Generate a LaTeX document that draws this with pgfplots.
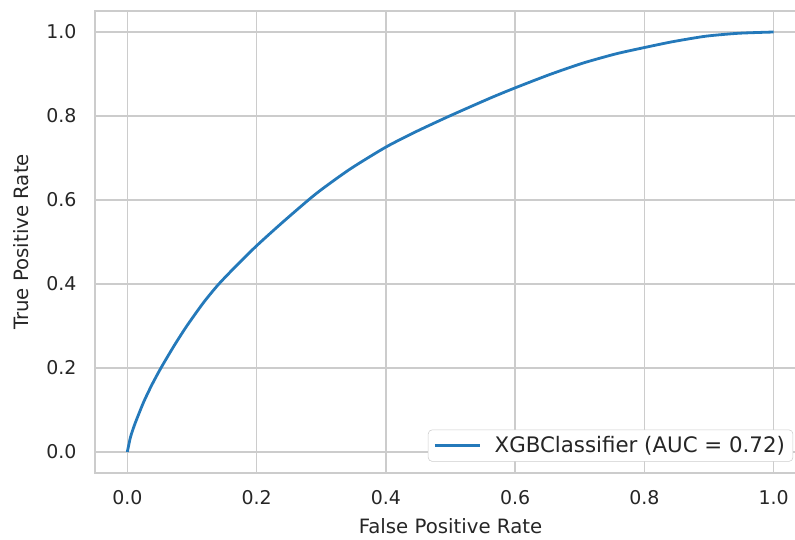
\documentclass[border=0pt]{standalone}
\usepackage{fontspec}
\setmainfont{DejaVu Sans}
\usepackage{pgfplots}
\pgfplotsset{compat=1.18}
\definecolor{gridgray}{HTML}{CCCCCC}
\definecolor{txt}{HTML}{262626}
\definecolor{rocblue}{HTML}{2479BA}
\begin{document}
\begin{tikzpicture}
\begin{axis}[
  scale only axis,
  width=533.25pt, height=346.5pt,
  xmin=-0.05, xmax=1.05, ymin=-0.05, ymax=1.05,
  xtick={0,0.2,0.4,0.6,0.8,1.0},
  ytick={0,0.2,0.4,0.6,0.8,1.0},
  /pgf/number format/fixed,
  /pgf/number format/fixed zerofill,
  /pgf/number format/precision=1,
  /pgf/number format/assume math mode=true,
  major tick length=0pt,
  tick style={draw=none},
  ticklabel style={font=\fontsize{14.2}{17}\selectfont, text=txt, inner sep=0pt},
  xticklabel style={anchor=north, yshift=-12.75pt},
  yticklabel style={anchor=east, xshift=-13.7pt},
  grid=major,
  major grid style={color=gridgray, line width=1pt},
  axis line style={color=gridgray, line width=1.2pt},
  xlabel={False Positive Rate},
  ylabel={True Positive Rate},
  label style={font=\fontsize{14.8}{17}\selectfont, text=txt, inner sep=0pt},
  xlabel style={at={(axis description cs:0.5,-0.0974)}, anchor=north},
  ylabel style={at={(axis description cs:-0.1153,0.5)}, anchor=north},
  legend style={at={(0.982,0.0245)}, anchor=south east, draw=gridgray, rounded corners=3pt,
    fill=white, font=\fontsize{16}{19}\selectfont, text=txt, inner xsep=4pt, inner ysep=3pt,
    /tikz/every odd column/.append style={column sep=8pt}},
  legend image code/.code={\draw[#1] (0pt,0pt) -- (33.75pt,0pt);},
]
\addplot[color=rocblue, line width=2.1pt, line join=round, smooth, tension=0.4] coordinates {
(0,0) (0.005,0.036) (0.012,0.068) (0.025,0.118) (0.038,0.160) (0.052,0.200)
(0.072,0.252) (0.092,0.300) (0.118,0.356) (0.141,0.399) (0.169,0.444)
(0.200,0.491) (0.241,0.548) (0.292,0.615) (0.344,0.673) (0.400,0.726)
(0.447,0.763) (0.500,0.801) (0.562,0.843) (0.600,0.867) (0.654,0.899)
(0.705,0.926) (0.756,0.948) (0.800,0.963) (0.844,0.977) (0.895,0.990)
(0.946,0.997) (1,1)
};
\addlegendentry{XGBClassifier (AUC = 0.72)}
\end{axis}
\pgfresetboundingbox
\useasboundingbox ([xshift=-71.25pt,yshift=-49.5pt]current axis.south west) rectangle ([xshift=-8.25pt,yshift=8.25pt]current axis.north east);
\end{tikzpicture}
\end{document}
